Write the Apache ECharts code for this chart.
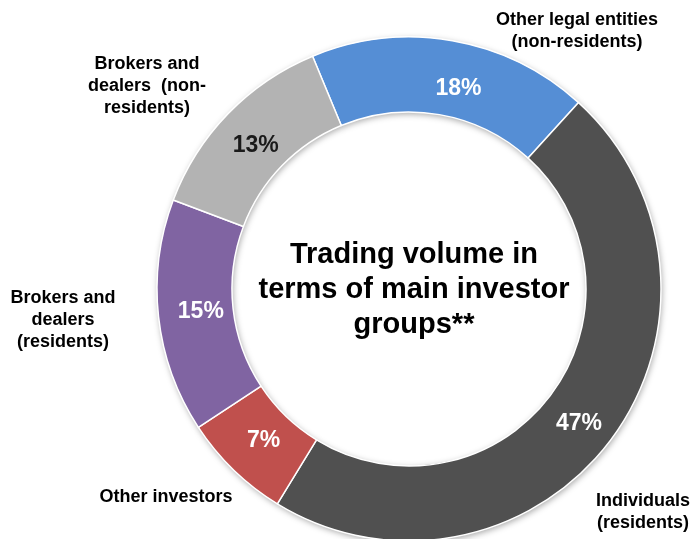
<!DOCTYPE html>
<html>
<head>
<meta charset="utf-8">
<script src="https://cdn.jsdelivr.net/npm/echarts@6/dist/echarts.min.js"></script>
<style>
  html, body { margin: 0; padding: 0; background: #fff; }
  #container { width: 695px; height: 539px; }
</style>
</head>
<body>
<div id="container"></div>
<script>
// data, clockwise from the blue slice
var groups = ['Other legal entities\n(non-residents)', 'Individuals\n(residents)', 'Other investors',
    'Brokers and\ndealers\n(residents)', 'Brokers and\ndealers  (non-\nresidents)'];
var shares = [18, 47, 7, 15, 13];

var colors = ['#558ed5', '#505050', '#c0504d', '#8064a2', '#b3b3b3'];
var pctColors = ['#fff', '#fff', '#fff', '#fff', '#1a1a1a'];
// where the group names sit (centre of the text block)
var namePos = [[577, 31], [643, 512], [166, 497], [63, 320], [147, 86]];
// nudges for the percentage labels
var pctNudge = [[12, 14], [-4, 4], [6, -5], [8, -1], [3, 8]];

var FONT = '"Liberation Sans", Arial, sans-serif';
var CENTER = [409, 289];
var RADIUS = [177, 252];

var dom = document.getElementById('container');
var myChart = echarts.init(dom);

var ringData = [];
var nameData = [];
for (var i = 0; i < shares.length; i++) {
    ringData.push({
        name: groups[i],
        value: shares[i],
        itemStyle: { color: colors[i] },
        label: { color: pctColors[i] }
    });
    nameData.push({ name: groups[i], value: shares[i] });
}

var option = {
    animation: false,
    backgroundColor: '#fff',
    graphic: [{
        type: 'text',
        x: 414,
        y: 290,
        z: 10,
        style: {
            text: 'Trading volume in\nterms of main investor\ngroups**',
            fill: '#000',
            font: 'bold 29px ' + FONT,
            lineHeight: 35,
            align: 'center',
            verticalAlign: 'middle'
        }
    }],
    series: [{
        // underlay: soft shadow + group names outside the ring
        type: 'pie',
        silent: true,
        center: CENTER,
        radius: RADIUS,
        startAngle: 112.5,
        z: 1,
        itemStyle: {
            color: '#fff',
            shadowBlur: 6,
            shadowColor: 'rgba(0,0,0,0.35)',
            shadowOffsetX: 1,
            shadowOffsetY: 2
        },
        label: {
            show: true,
            position: 'inside',
            formatter: '{b}',
            color: '#000',
            fontFamily: FONT,
            fontWeight: 'bold',
            fontSize: 18,
            lineHeight: 22,
            align: 'center',
            overflow: 'none'
        },
        labelLine: { show: false },
        labelLayout: function (params) {
            var p = namePos[params.dataIndex];
            return { x: p[0], y: p[1], align: 'center', verticalAlign: 'middle' };
        },
        data: nameData
    }, {
        type: 'pie',
        silent: true,
        center: CENTER,
        radius: RADIUS,
        startAngle: 112.5,
        z: 2,
        itemStyle: {
            borderColor: '#fff',
            borderWidth: 1.5
        },
        label: {
            show: true,
            position: 'inside',
            formatter: '{c}%',
            fontFamily: FONT,
            fontWeight: 'bold',
            fontSize: 23
        },
        labelLine: { show: false },
        labelLayout: function (params) {
            var d = pctNudge[params.dataIndex];
            return { dx: d[0], dy: d[1] };
        },
        data: ringData
    }]
};

myChart.setOption(option);

window.onresize = function () {
    myChart.resize();
};
</script>
</body>
</html>
